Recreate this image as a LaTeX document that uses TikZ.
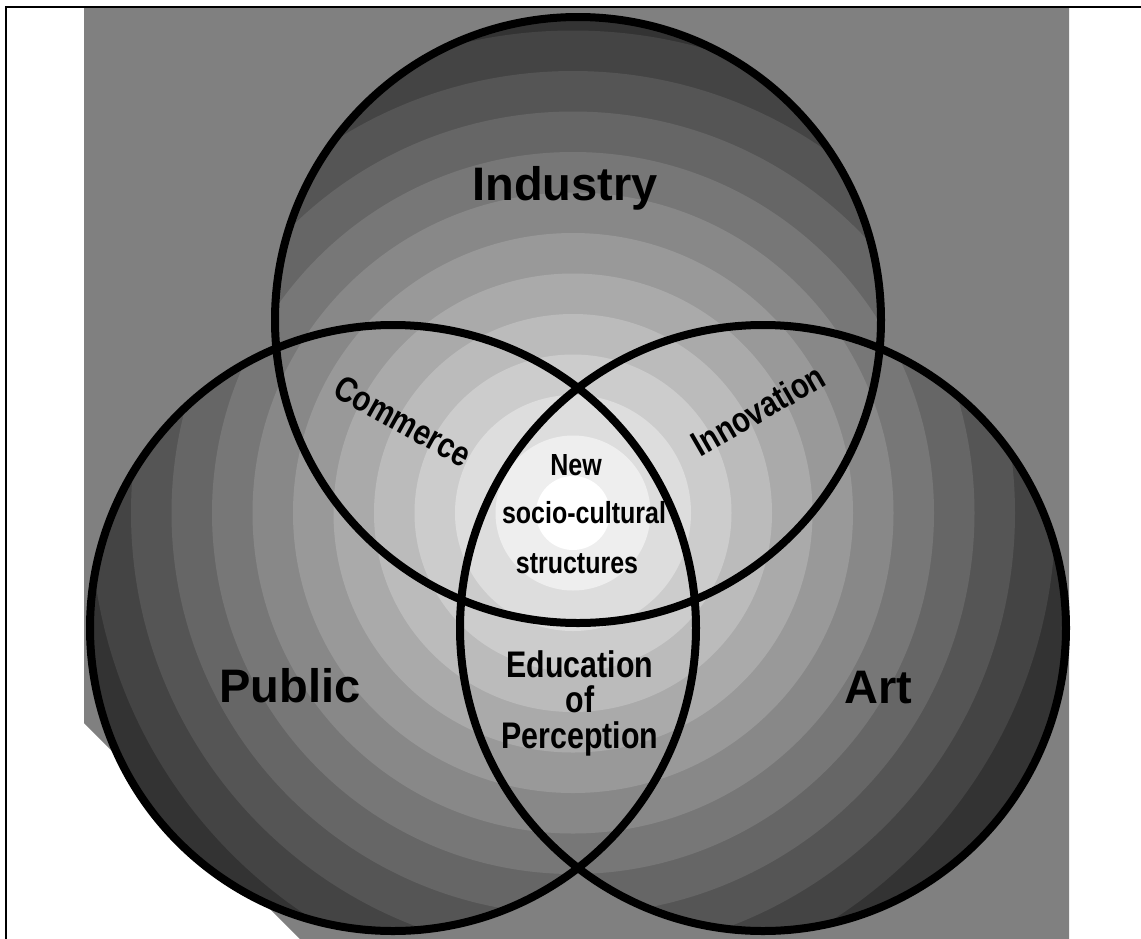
\documentclass[tikz,border=0pt]{standalone}
\usepackage{fontspec}
\setmainfont{Liberation Sans}
\newfontfamily\narrowfont[FakeStretch=0.82]{Liberation Sans}
\definecolor{slate}{gray}{0.502}
\begin{document}
\begin{tikzpicture}[x=1pt,y=-1pt,
  ring/.style={draw=black,line width=8pt},
  biglabel/.style={font=\fontsize{47}{50}\selectfont\bfseries,anchor=base,inner sep=0pt},
  corelabel/.style={font=\narrowfont\bfseries\fontsize{30.5}{36}\selectfont,anchor=base,inner sep=0pt},
  edulabel/.style={font=\narrowfont\bfseries\fontsize{37}{40}\selectfont,anchor=base,inner sep=0pt},
  arclabel/.style={font=\narrowfont\bfseries\fontsize{35.5}{38}\selectfont,anchor=center,inner sep=0pt}]
\useasboundingbox (0,0) rectangle (1141,938);

% centres of the three sets and of the shading
\coordinate (ind) at (578,320);
\coordinate (pub) at (393,628);
\coordinate (art) at (763,628);
\coordinate (core) at (573,513);

% grey backdrop with its clipped lower-left corner
\fill[slate] (84,8) -- (1069,8) -- (1069,940) -- (301,940) -- (84,723) -- cycle;

% outer frame
\draw[line width=2.5pt] (6,940) -- (6,7) -- (1145,7);

% banded radial shading, restricted to the union of the sets
\begin{scope}
  \clip (ind) circle[radius=303pt] (pub) circle[radius=303pt] (art) circle[radius=303pt];
  \foreach \k in {12,11,...,0}{
    \pgfmathsetmacro{\rr}{\k==12 ? 620 : 37+40.5*\k}
    \pgfmathsetmacro{\pp}{6.667*\k}
    \fill[black!\pp] (core) circle[radius=\rr pt];
  }
\end{scope}

% set outlines
\draw[ring] (ind) circle[radius=303pt];
\draw[ring] (pub) circle[radius=303pt];
\draw[ring] (art) circle[radius=303pt];

% set names
\node[biglabel] (industry) at (565,200) {Industry};
\node[biglabel] (public) at (290,702) {Public};
\node[biglabel] (artname) at (878,703) {Art};

% pairwise overlaps
\node[arclabel,rotate=-29] (commerce) at (403,421) {Commerce};
\node[arclabel,rotate=30] (innovation) at (758,410) {Innovation};
\node[edulabel] (edu1) at (580,677) {Education};
\node[edulabel] (edu2) at (580,712) {of};
\node[edulabel] (edu3) at (580,748) {Perception};

% common core
\node[corelabel] (new1) at (576,475) {New};
\node[corelabel] (new2) at (584,523) {socio-cultural};
\node[corelabel] (new3) at (577,573) {structures};
\end{tikzpicture}
\end{document}
